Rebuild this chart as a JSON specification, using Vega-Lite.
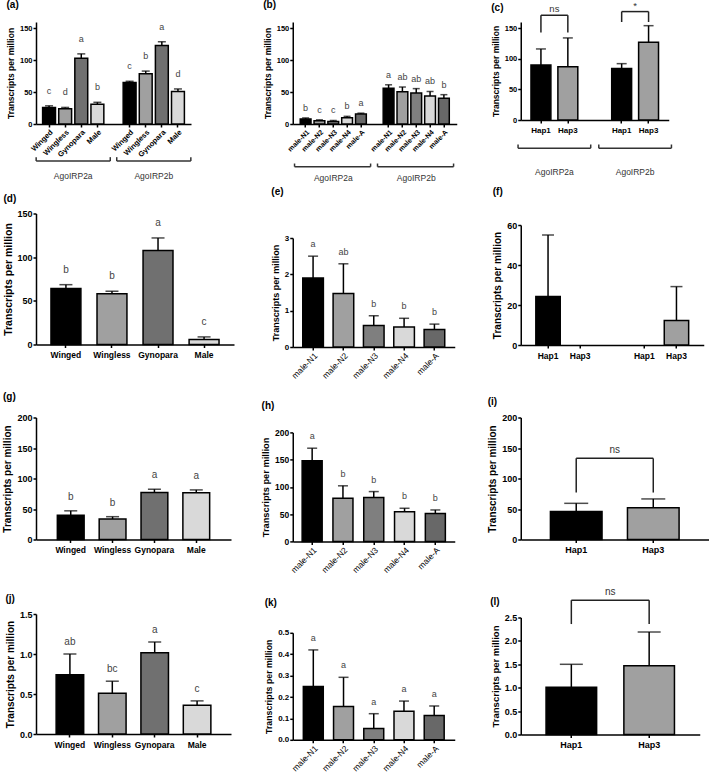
{
"$schema": "https://vega.github.io/schema/vega-lite/v6.json",
"background": "white",
"padding": {"left": 2, "top": 0, "right": 0, "bottom": 0},
"config": {
 "font": "Liberation Sans",
 "view": {"stroke": null},
 "axis": {"domainColor": "black", "domainWidth": 1.5, "tickColor": "black", "tickWidth": 1.5, "tickSize": 3, "labelColor": "black", "labelFontWeight": "bold", "titleColor": "black", "titleFontWeight": "bold", "grid": false, "labelPadding": 1, "titlePadding": 4, "labelFont": "Liberation Sans", "titleFont": "Liberation Sans", "labelOverlap": false},
 "title": {"anchor": "start", "frame": "bounds", "fontSize": 10, "fontWeight": "bold", "color": "black", "font": "Liberation Sans"},
 "bar": {"stroke": "black", "strokeWidth": 1.5},
 "text": {"font": "Liberation Sans"}
},
"datasets": {
 "a": [
  {"key":"2a|Winged","cat":"Winged","mean":26,"hi":28.5,"letter":"c"},
  {"key":"2a|Wingless","cat":"Wingless","mean":24,"hi":26,"letter":"d"},
  {"key":"2a|Gynopara","cat":"Gynopara","mean":103,"hi":110,"letter":"a"},
  {"key":"2a|Male","cat":"Male","mean":31,"hi":34,"letter":"b"},
  {"key":"2b|Winged","cat":"Winged","mean":65,"hi":67,"letter":"c"},
  {"key":"2b|Wingless","cat":"Wingless","mean":79,"hi":83,"letter":"b"},
  {"key":"2b|Gynopara","cat":"Gynopara","mean":123,"hi":129,"letter":"a"},
  {"key":"2b|Male","cat":"Male","mean":51,"hi":55,"letter":"d"}
 ],
 "a_g": [
  {"group":"AgoIRP2a","first":"2a|Winged","last":"2a|Male","mid":"2a|Wingless"},
  {"group":"AgoIRP2b","first":"2b|Winged","last":"2b|Male","mid":"2b|Wingless"}
 ],
 "b": [
  {"key":"2a|male-N1","cat":"male-N1","mean":8,"hi":9.5,"letter":"b"},
  {"key":"2a|male-N2","cat":"male-N2","mean":5,"hi":6.5,"letter":"c"},
  {"key":"2a|male-N3","cat":"male-N3","mean":4,"hi":5.5,"letter":"c"},
  {"key":"2a|male-N4","cat":"male-N4","mean":10,"hi":12,"letter":"b"},
  {"key":"2a|male-A","cat":"male-A","mean":15.5,"hi":17,"letter":"a"},
  {"key":"2b|male-N1","cat":"male-N1","mean":56,"hi":61.5,"letter":"a"},
  {"key":"2b|male-N2","cat":"male-N2","mean":50.5,"hi":58,"letter":"ab"},
  {"key":"2b|male-N3","cat":"male-N3","mean":48.5,"hi":55.5,"letter":"ab"},
  {"key":"2b|male-N4","cat":"male-N4","mean":44,"hi":51,"letter":"ab"},
  {"key":"2b|male-A","cat":"male-A","mean":40.5,"hi":46,"letter":"b"}
 ],
 "b_g": [
  {"group":"AgoIRP2a","first":"2a|male-N1","last":"2a|male-A","mid":"2a|male-N3"},
  {"group":"AgoIRP2b","first":"2b|male-N1","last":"2b|male-A","mid":"2b|male-N3"}
 ],
 "c": [
  {"key":"2a|Hap1","cat":"Hap1","mean":90,"hi":116},
  {"key":"2a|Hap3","cat":"Hap3","mean":87,"hi":134},
  {"key":"2b|Hap1","cat":"Hap1","mean":84,"hi":92},
  {"key":"2b|Hap3","cat":"Hap3","mean":127,"hi":154}
 ],
 "c_g": [
  {"group":"AgoIRP2a","first":"2a|Hap1","last":"2a|Hap3"},
  {"group":"AgoIRP2b","first":"2b|Hap1","last":"2b|Hap3"}
 ],
 "c_s": [
  {"a":"2a|Hap1","b":"2a|Hap3","top":171,"bot":143,"label":"ns"},
  {"a":"2b|Hap1","b":"2b|Hap3","top":177,"bot":160,"label":"*"}
 ],
 "d": [
  {"key":"Winged","cat":"Winged","mean":64,"hi":68.5,"letter":"b"},
  {"key":"Wingless","cat":"Wingless","mean":58,"hi":61,"letter":"b"},
  {"key":"Gynopara","cat":"Gynopara","mean":107.5,"hi":122,"letter":"a"},
  {"key":"Male","cat":"Male","mean":5.7,"hi":8.7,"letter":"c"}
 ],
 "e": [
  {"key":"male-N1","cat":"male-N1","mean":1.9,"hi":2.5,"letter":"a"},
  {"key":"male-N2","cat":"male-N2","mean":1.47,"hi":2.29,"letter":"ab"},
  {"key":"male-N3","cat":"male-N3","mean":0.59,"hi":0.86,"letter":"b"},
  {"key":"male-N4","cat":"male-N4","mean":0.55,"hi":0.79,"letter":"b"},
  {"key":"male-A","cat":"male-A","mean":0.48,"hi":0.63,"letter":"b"}
 ],
 "f": [
  {"key":"2a|Hap1","cat":"Hap1","mean":24.3,"hi":55},
  {"key":"2b|Hap3","cat":"Hap3","mean":12.3,"hi":29.2}
 ],
 "g": [
  {"key":"Winged","cat":"Winged","mean":39.6,"hi":47,"letter":"b"},
  {"key":"Wingless","cat":"Wingless","mean":33.6,"hi":37.4,"letter":"b"},
  {"key":"Gynopara","cat":"Gynopara","mean":77,"hi":82.4,"letter":"a"},
  {"key":"Male","cat":"Male","mean":76.5,"hi":81.3,"letter":"a"}
 ],
 "h": [
  {"key":"male-N1","cat":"male-N1","mean":148,"hi":171,"letter":"a"},
  {"key":"male-N2","cat":"male-N2","mean":79,"hi":102,"letter":"b"},
  {"key":"male-N3","cat":"male-N3","mean":80.4,"hi":91.4,"letter":"b"},
  {"key":"male-N4","cat":"male-N4","mean":54.6,"hi":60.8,"letter":"b"},
  {"key":"male-A","cat":"male-A","mean":51,"hi":57.7,"letter":"b"}
 ],
 "i": [
  {"key":"Hap1","cat":"Hap1","mean":46,"hi":59.3},
  {"key":"Hap3","cat":"Hap3","mean":52,"hi":66.5}
 ],
 "i_s": [{"a":"Hap1","b":"Hap3","top":133,"bot":77,"label":"ns"}],
 "j": [
  {"key":"Winged","cat":"Winged","mean":0.74,"hi":1.0,"letter":"ab"},
  {"key":"Wingless","cat":"Wingless","mean":0.51,"hi":0.66,"letter":"bc"},
  {"key":"Gynopara","cat":"Gynopara","mean":1.015,"hi":1.15,"letter":"a"},
  {"key":"Male","cat":"Male","mean":0.36,"hi":0.414,"letter":"c"}
 ],
 "k": [
  {"key":"male-N1","cat":"male-N1","mean":0.249,"hi":0.42,"letter":"a"},
  {"key":"male-N2","cat":"male-N2","mean":0.156,"hi":0.292,"letter":"a"},
  {"key":"male-N3","cat":"male-N3","mean":0.053,"hi":0.122,"letter":"a"},
  {"key":"male-N4","cat":"male-N4","mean":0.133,"hi":0.181,"letter":"a"},
  {"key":"male-A","cat":"male-A","mean":0.113,"hi":0.158,"letter":"a"}
 ],
 "l": [
  {"key":"Hap1","cat":"Hap1","mean":1.01,"hi":1.5},
  {"key":"Hap3","cat":"Hap3","mean":1.47,"hi":2.19}
 ],
 "l_s": [{"a":"Hap1","b":"Hap3","top":2.87,"bot":2.36,"label":"ns"}]
},
"concat": [
 {"concat": [
  {"concat": [
   {"title": {"text": "(a)", "offset": 12}, "width": 155, "height": 102, "data": {"name": "a"},
    "encoding": {"x": {"field": "key", "type": "nominal", "title": null,
      "scale": {"domain": ["2a|Winged","2a|Wingless","2a|Gynopara","2a|Male","gap","2b|Winged","2b|Wingless","2b|Gynopara","2b|Male"], "paddingInner": 0, "paddingOuter": 0.31},
      "axis": {"values": ["2a|Winged","2a|Wingless","2a|Gynopara","2a|Male","2b|Winged","2b|Wingless","2b|Gynopara","2b|Male"], "labelExpr": "split(datum.value,'|')[1]", "labelAngle": -45, "labelAlign": "right", "labelBaseline": "top", "labelFontSize": 7.5}}},
    "layer": [
     {"mark": {"type": "bar", "width": {"band": 0.8}}, "encoding": {"y": {"field": "mean", "type": "quantitative", "title": "Transcripts per million", "scale": {"domain": [0,160], "nice": false}, "axis": {"values": [0,50,100,150], "format": "d", "tickCount": 20, "labelOverlap": false, "labelFontSize": 7.5, "titleFontSize": 8.5}},
       "color": {"field":"cat","type":"nominal","legend":null,"scale":{"domain":["Winged","Wingless","Gynopara","Male","male-N1","male-N2","male-N3","male-N4","male-A","Hap1","Hap3"],"range":["#000000","#a0a0a0","#707070","#d9d9d9","#000000","#a0a0a0","#7f7f7f","#d9d9d9","#686868","#000000","#a0a0a0"]}}}},
     {"mark": {"type": "rule", "color": "black", "strokeWidth": 1.5}, "encoding": {"y": {"field": "mean", "type": "quantitative", "title": "Transcripts per million"}, "y2": {"field": "hi"}}},
     {"mark": {"type": "tick", "color": "black", "thickness": 1.5, "size": 8}, "encoding": {"y": {"field": "hi", "type": "quantitative", "title": "Transcripts per million"}}},
     {"mark": {"type": "text", "baseline": "middle", "dy": -15, "fontSize": 9, "color": "#444"}, "encoding": {"y": {"field": "hi", "type": "quantitative", "title": "Transcripts per million"}, "text": {"field": "letter"}}},
     {"data": {"name": "a_g"}, "mark": {"type": "rule", "color": "#333", "strokeWidth": 1.5}, "encoding": {"x": {"field": "first", "type": "nominal", "bandPosition": -0.3, "title": null}, "x2": {"field": "last", "bandPosition": 1.3}, "y": {"datum": -58}}},
     {"data": {"name": "a_g"}, "mark": {"type": "rule", "color": "#333", "strokeWidth": 1.5}, "encoding": {"x": {"field": "first", "type": "nominal", "bandPosition": -0.3, "title": null}, "y": {"datum": -58}, "y2": {"datum": -52}}},
     {"data": {"name": "a_g"}, "mark": {"type": "rule", "color": "#333", "strokeWidth": 1.5}, "encoding": {"x": {"field": "last", "type": "nominal", "bandPosition": 1.3, "title": null}, "y": {"datum": -58}, "y2": {"datum": -52}}},
     {"data": {"name": "a_g"}, "mark": {"type": "text", "fontSize": 8.5, "color": "#333", "baseline": "middle"}, "encoding": {"x": {"field": "mid", "type": "nominal", "bandPosition": 1, "title": null}, "y": {"datum": -82}, "text": {"field": "group"}}}
    ]}
  ], "columns": 1, "align": "none"},
  {"concat": [
   {"concat": [
    {"title": {"text": "(d)", "offset": 5.5}, "width": 198, "height": 131, "data": {"name": "d"},
     "encoding": {"x": {"field": "key", "type": "nominal", "title": null, "scale": {"domain": ["Winged","Wingless","Gynopara","Male"], "paddingInner": 0, "paddingOuter": 0.15},
       "axis": {"labelAngle": 0, "labelFontSize": 8.5, "labelPadding": 3}}},
     "layer": [
      {"mark": {"type": "bar", "width": {"band": 0.65}}, "encoding": {"y": {"field": "mean", "type": "quantitative", "title": "Transcripts per million", "scale": {"domain": [0,150], "nice": false}, "axis": {"values": [0,50,100,150], "format": "d", "tickCount": 20, "labelOverlap": false, "labelFontSize": 9, "titleFontSize": 10.5, "titlePadding": 3.5}},
        "color": {"field":"cat","type":"nominal","legend":null,"scale":{"domain":["Winged","Wingless","Gynopara","Male","male-N1","male-N2","male-N3","male-N4","male-A","Hap1","Hap3"],"range":["#000000","#a0a0a0","#707070","#d9d9d9","#000000","#a0a0a0","#7f7f7f","#d9d9d9","#686868","#000000","#a0a0a0"]}}}},
      {"mark": {"type": "rule", "color": "black", "strokeWidth": 1.5}, "encoding": {"y": {"field": "mean", "type": "quantitative", "title": "Transcripts per million"}, "y2": {"field": "hi"}}},
      {"mark": {"type": "tick", "color": "black", "thickness": 1.5, "size": 13}, "encoding": {"y": {"field": "hi", "type": "quantitative", "title": "Transcripts per million"}}},
      {"mark": {"type": "text", "baseline": "middle", "dy": -15, "fontSize": 10, "color": "#444"}, "encoding": {"y": {"field": "hi", "type": "quantitative", "title": "Transcripts per million"}, "text": {"field": "letter"}}}
     ]}
   ], "columns": 1, "align": "none"},
   {"concat": [
    {"concat": [
     {"title": {"text": "(g)", "offset": 11.5}, "width": 195, "height": 122, "data": {"name": "g"},
      "encoding": {"x": {"field": "key", "type": "nominal", "title": null, "scale": {"domain": ["Winged","Wingless","Gynopara","Male"], "paddingInner": 0, "paddingOuter": 0.33},
        "axis": {"labelAngle": 0, "labelFontSize": 8.5, "labelPadding": 3}}},
      "layer": [
       {"mark": {"type": "bar", "width": {"band": 0.64}}, "encoding": {"y": {"field": "mean", "type": "quantitative", "title": "Transcripts per million", "scale": {"domain": [0,200], "nice": false}, "axis": {"values": [0,50,100,150,200], "format": "d", "tickCount": 20, "labelOverlap": false, "labelFontSize": 9, "titleFontSize": 10}},
         "color": {"field":"cat","type":"nominal","legend":null,"scale":{"domain":["Winged","Wingless","Gynopara","Male","male-N1","male-N2","male-N3","male-N4","male-A","Hap1","Hap3"],"range":["#000000","#a0a0a0","#707070","#d9d9d9","#000000","#a0a0a0","#7f7f7f","#d9d9d9","#686868","#000000","#a0a0a0"]}}}},
       {"mark": {"type": "rule", "color": "black", "strokeWidth": 1.5}, "encoding": {"y": {"field": "mean", "type": "quantitative", "title": "Transcripts per million"}, "y2": {"field": "hi"}}},
       {"mark": {"type": "tick", "color": "black", "thickness": 1.5, "size": 13}, "encoding": {"y": {"field": "hi", "type": "quantitative", "title": "Transcripts per million"}}},
       {"mark": {"type": "text", "baseline": "middle", "dy": -14, "fontSize": 10, "color": "#444"}, "encoding": {"y": {"field": "hi", "type": "quantitative", "title": "Transcripts per million"}, "text": {"field": "letter"}}}
      ]}
    ], "columns": 1, "align": "none"},
    {"concat": [
     {"title": {"text": "(j)", "offset": 6.5}, "width": 195, "height": 120, "data": {"name": "j"},
      "encoding": {"x": {"field": "key", "type": "nominal", "title": null, "scale": {"domain": ["Winged","Wingless","Gynopara","Male"], "paddingInner": 0, "paddingOuter": 0.3},
        "axis": {"labelAngle": 0, "labelFontSize": 8.5, "labelPadding": 3}}},
      "layer": [
       {"mark": {"type": "bar", "width": {"band": 0.65}}, "encoding": {"y": {"field": "mean", "type": "quantitative", "title": "Transcripts per million", "scale": {"domain": [0,1.5], "nice": false}, "axis": {"values": [0,0.5,1,1.5], "format": ".1f", "tickCount": 20, "labelOverlap": false, "labelFontSize": 9, "titleFontSize": 10}},
         "color": {"field":"cat","type":"nominal","legend":null,"scale":{"domain":["Winged","Wingless","Gynopara","Male","male-N1","male-N2","male-N3","male-N4","male-A","Hap1","Hap3"],"range":["#000000","#a0a0a0","#707070","#d9d9d9","#000000","#a0a0a0","#7f7f7f","#d9d9d9","#686868","#000000","#a0a0a0"]}}}},
       {"mark": {"type": "rule", "color": "black", "strokeWidth": 1.5}, "encoding": {"y": {"field": "mean", "type": "quantitative", "title": "Transcripts per million"}, "y2": {"field": "hi"}}},
       {"mark": {"type": "tick", "color": "black", "thickness": 1.5, "size": 13}, "encoding": {"y": {"field": "hi", "type": "quantitative", "title": "Transcripts per million"}}},
       {"mark": {"type": "text", "baseline": "middle", "dy": -12, "fontSize": 10, "color": "#444"}, "encoding": {"y": {"field": "hi", "type": "quantitative", "title": "Transcripts per million"}, "text": {"field": "letter"}}}
      ]}
    ], "columns": 1, "align": "none"}
   ], "columns": 1, "align": "none", "spacing": 38.5}
  ], "columns": 1, "align": "none", "spacing": 32}
 ], "columns": 1, "align": "none", "spacing": 12.5},
 {"concat": [
  {"concat": [
   {"concat": [
    {"title": {"text": "(b)", "offset": 12}, "width": 164, "height": 102, "data": {"name": "b"},
     "encoding": {"x": {"field": "key", "type": "nominal", "title": null,
       "scale": {"domain": ["2a|male-N1","2a|male-N2","2a|male-N3","2a|male-N4","2a|male-A","gap","2b|male-N1","2b|male-N2","2b|male-N3","2b|male-N4","2b|male-A"], "paddingInner": 0, "paddingOuter": 0.43},
       "axis": {"values": ["2a|male-N1","2a|male-N2","2a|male-N3","2a|male-N4","2a|male-A","2b|male-N1","2b|male-N2","2b|male-N3","2b|male-N4","2b|male-A"], "labelExpr": "split(datum.value,'|')[1]", "labelAngle": -45, "labelAlign": "right", "labelBaseline": "top", "labelFontSize": 7}}},
     "layer": [
      {"mark": {"type": "bar", "width": {"band": 0.78}}, "encoding": {"y": {"field": "mean", "type": "quantitative", "title": "Transcripts per million", "scale": {"domain": [0,160], "nice": false}, "axis": {"values": [0,50,100,150], "format": "d", "tickCount": 20, "labelOverlap": false, "labelFontSize": 7.5, "titleFontSize": 8.5}},
        "color": {"field":"cat","type":"nominal","legend":null,"scale":{"domain":["Winged","Wingless","Gynopara","Male","male-N1","male-N2","male-N3","male-N4","male-A","Hap1","Hap3"],"range":["#000000","#a0a0a0","#707070","#d9d9d9","#000000","#a0a0a0","#7f7f7f","#d9d9d9","#686868","#000000","#a0a0a0"]}}}},
      {"mark": {"type": "rule", "color": "black", "strokeWidth": 1.5}, "encoding": {"y": {"field": "mean", "type": "quantitative", "title": "Transcripts per million"}, "y2": {"field": "hi"}}},
      {"mark": {"type": "tick", "color": "black", "thickness": 1.5, "size": 7}, "encoding": {"y": {"field": "hi", "type": "quantitative", "title": "Transcripts per million"}}},
      {"mark": {"type": "text", "baseline": "middle", "dy": -10, "fontSize": 9, "color": "#444"}, "encoding": {"y": {"field": "hi", "type": "quantitative", "title": "Transcripts per million"}, "text": {"field": "letter"}}},
      {"data": {"name": "b_g"}, "mark": {"type": "rule", "color": "#333", "strokeWidth": 1.5}, "encoding": {"x": {"field": "first", "type": "nominal", "bandPosition": -0.3, "title": null}, "x2": {"field": "last", "bandPosition": 1.2}, "y": {"datum": -67}}},
      {"data": {"name": "b_g"}, "mark": {"type": "rule", "color": "#333", "strokeWidth": 1.5}, "encoding": {"x": {"field": "first", "type": "nominal", "bandPosition": -0.3, "title": null}, "y": {"datum": -67}, "y2": {"datum": -62}}},
      {"data": {"name": "b_g"}, "mark": {"type": "rule", "color": "#333", "strokeWidth": 1.5}, "encoding": {"x": {"field": "last", "type": "nominal", "bandPosition": 1.2, "title": null}, "y": {"datum": -67}, "y2": {"datum": -62}}},
      {"data": {"name": "b_g"}, "mark": {"type": "text", "fontSize": 8.5, "color": "#333", "baseline": "middle"}, "encoding": {"x": {"field": "mid", "type": "nominal", "bandPosition": 0.5, "title": null}, "y": {"datum": -85}, "text": {"field": "group"}}}
     ]}
   ], "columns": 1, "align": "none"},
   {"concat": [
    {"concat": [
     {"title": {"text": "(e)", "offset": 37}, "width": 162, "height": 109, "data": {"name": "e"},
      "encoding": {"x": {"field": "key", "type": "nominal", "title": null, "scale": {"domain": ["male-N1","male-N2","male-N3","male-N4","male-A"], "paddingInner": 0, "paddingOuter": 0.17},
        "axis": {"labelAngle": -45, "labelAlign": "right", "labelBaseline": "top", "labelFontSize": 8.5, "labelFontWeight": "normal"}}},
      "layer": [
       {"mark": {"type": "bar", "width": {"band": 0.68}}, "encoding": {"y": {"field": "mean", "type": "quantitative", "title": "Transcripts per million", "scale": {"domain": [0,3], "nice": false}, "axis": {"values": [0,1,2,3], "format": "d", "tickCount": 20, "labelOverlap": false, "labelFontSize": 8, "titleFontSize": 9}},
         "color": {"field":"cat","type":"nominal","legend":null,"scale":{"domain":["Winged","Wingless","Gynopara","Male","male-N1","male-N2","male-N3","male-N4","male-A","Hap1","Hap3"],"range":["#000000","#a0a0a0","#707070","#d9d9d9","#000000","#a0a0a0","#7f7f7f","#d9d9d9","#686868","#000000","#a0a0a0"]}}}},
       {"mark": {"type": "rule", "color": "black", "strokeWidth": 1.5}, "encoding": {"y": {"field": "mean", "type": "quantitative", "title": "Transcripts per million"}, "y2": {"field": "hi"}}},
       {"mark": {"type": "tick", "color": "black", "thickness": 1.5, "size": 10}, "encoding": {"y": {"field": "hi", "type": "quantitative", "title": "Transcripts per million"}}},
       {"mark": {"type": "text", "baseline": "middle", "dy": -12, "fontSize": 9, "color": "#444"}, "encoding": {"y": {"field": "hi", "type": "quantitative", "title": "Transcripts per million"}, "text": {"field": "letter"}}}
      ]}
    ], "columns": 1, "align": "none"},
    {"concat": [
     {"concat": [
      {"title": {"text": "(h)", "offset": 17.75}, "width": 162, "height": 109, "data": {"name": "h"},
       "encoding": {"x": {"field": "key", "type": "nominal", "title": null, "scale": {"domain": ["male-N1","male-N2","male-N3","male-N4","male-A"], "paddingInner": 0, "paddingOuter": 0.13},
         "axis": {"labelAngle": -45, "labelAlign": "right", "labelBaseline": "top", "labelFontSize": 8.5, "labelFontWeight": "normal"}}},
       "layer": [
        {"mark": {"type": "bar", "width": {"band": 0.65}}, "encoding": {"y": {"field": "mean", "type": "quantitative", "title": "Transcripts per million", "scale": {"domain": [0,200], "nice": false}, "axis": {"values": [0,50,100,150,200], "format": "d", "tickCount": 20, "labelOverlap": false, "labelFontSize": 8.5, "titleFontSize": 9.3}},
          "color": {"field":"cat","type":"nominal","legend":null,"scale":{"domain":["Winged","Wingless","Gynopara","Male","male-N1","male-N2","male-N3","male-N4","male-A","Hap1","Hap3"],"range":["#000000","#a0a0a0","#707070","#d9d9d9","#000000","#a0a0a0","#7f7f7f","#d9d9d9","#686868","#000000","#a0a0a0"]}}}},
        {"mark": {"type": "rule", "color": "black", "strokeWidth": 1.5}, "encoding": {"y": {"field": "mean", "type": "quantitative", "title": "Transcripts per million"}, "y2": {"field": "hi"}}},
        {"mark": {"type": "tick", "color": "black", "thickness": 1.5, "size": 10}, "encoding": {"y": {"field": "hi", "type": "quantitative", "title": "Transcripts per million"}}},
        {"mark": {"type": "text", "baseline": "middle", "dy": -12, "fontSize": 9, "color": "#444"}, "encoding": {"y": {"field": "hi", "type": "quantitative", "title": "Transcripts per million"}, "text": {"field": "letter"}}}
       ]}
     ], "columns": 1, "align": "none"},
     {"concat": [
      {"title": {"text": "(k)", "offset": 21}, "width": 162, "height": 107, "data": {"name": "k"},
       "encoding": {"x": {"field": "key", "type": "nominal", "title": null, "scale": {"domain": ["male-N1","male-N2","male-N3","male-N4","male-A"], "paddingInner": 0, "paddingOuter": 0.18},
         "axis": {"labelAngle": -45, "labelAlign": "right", "labelBaseline": "top", "labelFontSize": 8.5, "labelFontWeight": "normal"}}},
       "layer": [
        {"mark": {"type": "bar", "width": {"band": 0.66}}, "encoding": {"y": {"field": "mean", "type": "quantitative", "title": "Transcripts per million", "scale": {"domain": [0,0.5], "nice": false}, "axis": {"values": [0,0.1,0.2,0.3,0.4,0.5], "format": ".1f", "tickCount": 20, "labelOverlap": false, "labelFontSize": 8, "titleFontSize": 8.8}},
          "color": {"field":"cat","type":"nominal","legend":null,"scale":{"domain":["Winged","Wingless","Gynopara","Male","male-N1","male-N2","male-N3","male-N4","male-A","Hap1","Hap3"],"range":["#000000","#a0a0a0","#707070","#d9d9d9","#000000","#a0a0a0","#7f7f7f","#d9d9d9","#686868","#000000","#a0a0a0"]}}}},
        {"mark": {"type": "rule", "color": "black", "strokeWidth": 1.5}, "encoding": {"y": {"field": "mean", "type": "quantitative", "title": "Transcripts per million"}, "y2": {"field": "hi"}}},
        {"mark": {"type": "tick", "color": "black", "thickness": 1.5, "size": 10}, "encoding": {"y": {"field": "hi", "type": "quantitative", "title": "Transcripts per million"}}},
        {"mark": {"type": "text", "baseline": "middle", "dy": -12, "fontSize": 9, "color": "#444"}, "encoding": {"y": {"field": "hi", "type": "quantitative", "title": "Transcripts per million"}, "text": {"field": "letter"}}}
       ]}
     ], "columns": 1, "align": "none"}
    ], "columns": 1, "align": "none", "spacing": 23.4}
   ], "columns": 1, "align": "none", "spacing": 20.4}
  ], "columns": 1, "align": "none", "spacing": 4},
  {"concat": [
   {"concat": [
    {"title": {"text": "(c)", "offset": -12}, "width": 148, "height": 98, "data": {"name": "c"},
     "encoding": {"x": {"field": "key", "type": "nominal", "title": null,
       "scale": {"domain": ["2a|Hap1","2a|Hap3","gap","2b|Hap1","2b|Hap3"], "paddingInner": 0, "paddingOuter": 0.25},
       "axis": {"values": ["2a|Hap1","2a|Hap3","2b|Hap1","2b|Hap3"], "labelExpr": "split(datum.value,'|')[1]", "labelAngle": 0, "labelFontSize": 8, "labelPadding": 3}}},
     "layer": [
      {"mark": {"type": "bar", "width": {"band": 0.74}}, "encoding": {"y": {"field": "mean", "type": "quantitative", "title": "Transcripts per million", "scale": {"domain": [0,160], "nice": false}, "axis": {"values": [0,50,100,150], "format": "d", "tickCount": 20, "labelOverlap": false, "labelFontSize": 7.5, "titleFontSize": 8.5}},
        "color": {"field":"cat","type":"nominal","legend":null,"scale":{"domain":["Winged","Wingless","Gynopara","Male","male-N1","male-N2","male-N3","male-N4","male-A","Hap1","Hap3"],"range":["#000000","#a0a0a0","#707070","#d9d9d9","#000000","#a0a0a0","#7f7f7f","#d9d9d9","#686868","#000000","#a0a0a0"]}}}},
      {"mark": {"type": "rule", "color": "black", "strokeWidth": 1.5}, "encoding": {"y": {"field": "mean", "type": "quantitative", "title": "Transcripts per million"}, "y2": {"field": "hi"}}},
      {"mark": {"type": "tick", "color": "black", "thickness": 1.5, "size": 10}, "encoding": {"y": {"field": "hi", "type": "quantitative", "title": "Transcripts per million"}}},
      {"data": {"name": "c_s"}, "mark": {"type": "rule", "color": "#222", "strokeWidth": 1.5}, "encoding": {"x": {"field": "a", "type": "nominal", "bandPosition": 0.5, "title": null}, "x2": {"field": "b", "bandPosition": 0.5}, "y": {"field": "top", "type": "quantitative", "title": "Transcripts per million"}}},
      {"data": {"name": "c_s"}, "mark": {"type": "rule", "color": "#222", "strokeWidth": 1.5}, "encoding": {"x": {"field": "a", "type": "nominal", "title": null}, "y": {"field": "top", "type": "quantitative", "title": "Transcripts per million"}, "y2": {"field": "bot"}}},
      {"data": {"name": "c_s"}, "mark": {"type": "rule", "color": "#222", "strokeWidth": 1.5}, "encoding": {"x": {"field": "b", "type": "nominal", "title": null}, "y": {"field": "top", "type": "quantitative", "title": "Transcripts per million"}, "y2": {"field": "bot"}}},
      {"data": {"name": "c_s"}, "mark": {"type": "text", "baseline": "bottom", "dy": -1, "fontSize": 9.5, "color": "#333"}, "encoding": {"x": {"field": "a", "type": "nominal", "bandPosition": 1, "title": null}, "y": {"field": "top", "type": "quantitative", "title": "Transcripts per million"}, "text": {"field": "label"}}},
      {"data": {"name": "c_g"}, "mark": {"type": "rule", "color": "#333", "strokeWidth": 1.5}, "encoding": {"x": {"field": "first", "type": "nominal", "bandPosition": -0.35, "title": null}, "x2": {"field": "last", "bandPosition": 1.35}, "y": {"datum": -46}}},
      {"data": {"name": "c_g"}, "mark": {"type": "rule", "color": "#333", "strokeWidth": 1.5}, "encoding": {"x": {"field": "first", "type": "nominal", "bandPosition": -0.35, "title": null}, "y": {"datum": -46}, "y2": {"datum": -40}}},
      {"data": {"name": "c_g"}, "mark": {"type": "rule", "color": "#333", "strokeWidth": 1.5}, "encoding": {"x": {"field": "last", "type": "nominal", "bandPosition": 1.35, "title": null}, "y": {"datum": -46}, "y2": {"datum": -40}}},
      {"data": {"name": "c_g"}, "mark": {"type": "text", "fontSize": 8.5, "color": "#333", "baseline": "middle"}, "encoding": {"x": {"field": "first", "type": "nominal", "bandPosition": 1, "title": null}, "y": {"datum": -85}, "text": {"field": "group"}}}
     ]}
   ], "columns": 1, "align": "none"},
   {"concat": [
    {"concat": [
     {"title": {"text": "(f)", "offset": 24.5}, "width": 183, "height": 120, "data": {"name": "f"},
      "encoding": {"x": {"field": "key", "type": "nominal", "title": null,
        "scale": {"domain": ["2a|Hap1","2a|Hap3","gap","2b|Hap1","2b|Hap3"], "paddingInner": 0, "paddingOuter": 0.35},
        "axis": {"values": ["2a|Hap1","2a|Hap3","2b|Hap1","2b|Hap3"], "labelExpr": "split(datum.value,'|')[1]", "labelAngle": 0, "labelFontSize": 8.5, "labelPadding": 3}}},
      "layer": [
       {"mark": {"type": "bar", "width": {"band": 0.76}}, "encoding": {"y": {"field": "mean", "type": "quantitative", "title": "Transcripts per million", "scale": {"domain": [0,60], "nice": false}, "axis": {"values": [0,20,40,60], "format": "d", "tickCount": 20, "labelOverlap": false, "labelFontSize": 9, "titleFontSize": 10}},
         "color": {"field":"cat","type":"nominal","legend":null,"scale":{"domain":["Winged","Wingless","Gynopara","Male","male-N1","male-N2","male-N3","male-N4","male-A","Hap1","Hap3"],"range":["#000000","#a0a0a0","#707070","#d9d9d9","#000000","#a0a0a0","#7f7f7f","#d9d9d9","#686868","#000000","#a0a0a0"]}}}},
       {"mark": {"type": "rule", "color": "black", "strokeWidth": 1.5}, "encoding": {"y": {"field": "mean", "type": "quantitative", "title": "Transcripts per million"}, "y2": {"field": "hi"}}},
       {"mark": {"type": "tick", "color": "black", "thickness": 1.5, "size": 12}, "encoding": {"y": {"field": "hi", "type": "quantitative", "title": "Transcripts per million"}}}
      ]}
    ], "columns": 1, "align": "none"},
    {"concat": [
     {"concat": [
      {"title": {"text": "(i)", "offset": 6.5}, "width": 188, "height": 122, "data": {"name": "i"},
       "encoding": {"x": {"field": "key", "type": "nominal", "title": null, "scale": {"domain": ["Hap1","Hap3"], "paddingInner": 0, "paddingOuter": 0.22},
         "axis": {"labelAngle": 0, "labelFontSize": 9, "labelPadding": 3}}},
       "layer": [
        {"mark": {"type": "bar", "width": {"band": 0.67}}, "encoding": {"y": {"field": "mean", "type": "quantitative", "title": "Transcripts per million", "scale": {"domain": [0,200], "nice": false}, "axis": {"values": [0,50,100,150,200], "format": "d", "tickCount": 20, "labelOverlap": false, "labelFontSize": 9, "titleFontSize": 10}},
          "color": {"field":"cat","type":"nominal","legend":null,"scale":{"domain":["Winged","Wingless","Gynopara","Male","male-N1","male-N2","male-N3","male-N4","male-A","Hap1","Hap3"],"range":["#000000","#a0a0a0","#707070","#d9d9d9","#000000","#a0a0a0","#7f7f7f","#d9d9d9","#686868","#000000","#a0a0a0"]}}}},
        {"mark": {"type": "rule", "color": "black", "strokeWidth": 1.5}, "encoding": {"y": {"field": "mean", "type": "quantitative", "title": "Transcripts per million"}, "y2": {"field": "hi"}}},
        {"mark": {"type": "tick", "color": "black", "thickness": 1.5, "size": 24}, "encoding": {"y": {"field": "hi", "type": "quantitative", "title": "Transcripts per million"}}},
        {"data": {"name": "i_s"}, "mark": {"type": "rule", "color": "#222", "strokeWidth": 1.5}, "encoding": {"x": {"field": "a", "type": "nominal", "bandPosition": 0.5, "title": null}, "x2": {"field": "b", "bandPosition": 0.5}, "y": {"field": "top", "type": "quantitative", "title": "Transcripts per million"}}},
        {"data": {"name": "i_s"}, "mark": {"type": "rule", "color": "#222", "strokeWidth": 1.5}, "encoding": {"x": {"field": "a", "type": "nominal", "title": null}, "y": {"field": "top", "type": "quantitative", "title": "Transcripts per million"}, "y2": {"field": "bot"}}},
        {"data": {"name": "i_s"}, "mark": {"type": "rule", "color": "#222", "strokeWidth": 1.5}, "encoding": {"x": {"field": "b", "type": "nominal", "title": null}, "y": {"field": "top", "type": "quantitative", "title": "Transcripts per million"}, "y2": {"field": "bot"}}},
        {"data": {"name": "i_s"}, "mark": {"type": "text", "baseline": "bottom", "dy": -3, "fontSize": 10, "color": "#333"}, "encoding": {"x": {"field": "a", "type": "nominal", "bandPosition": 1, "title": null}, "y": {"field": "top", "type": "quantitative", "title": "Transcripts per million"}, "text": {"field": "label"}}}
       ]}
     ], "columns": 1, "align": "none"},
     {"concat": [
      {"title": {"text": "(l)", "offset": -20.3}, "width": 179, "height": 117, "data": {"name": "l"},
       "encoding": {"x": {"field": "key", "type": "nominal", "title": null, "scale": {"domain": ["Hap1","Hap3"], "paddingInner": 0, "paddingOuter": 0.15},
         "axis": {"labelAngle": 0, "labelFontSize": 9, "labelPadding": 3}}},
       "layer": [
        {"mark": {"type": "bar", "width": {"band": 0.65}}, "encoding": {"y": {"field": "mean", "type": "quantitative", "title": "Transcripts per million", "scale": {"domain": [0,2.5], "nice": false}, "axis": {"values": [0,0.5,1,1.5,2,2.5], "format": ".1f", "tickCount": 20, "labelOverlap": false, "labelFontSize": 9, "titleFontSize": 9.5}},
          "color": {"field":"cat","type":"nominal","legend":null,"scale":{"domain":["Winged","Wingless","Gynopara","Male","male-N1","male-N2","male-N3","male-N4","male-A","Hap1","Hap3"],"range":["#000000","#a0a0a0","#707070","#d9d9d9","#000000","#a0a0a0","#7f7f7f","#d9d9d9","#686868","#000000","#a0a0a0"]}}}},
        {"mark": {"type": "rule", "color": "black", "strokeWidth": 1.5}, "encoding": {"y": {"field": "mean", "type": "quantitative", "title": "Transcripts per million"}, "y2": {"field": "hi"}}},
        {"mark": {"type": "tick", "color": "black", "thickness": 1.5, "size": 23}, "encoding": {"y": {"field": "hi", "type": "quantitative", "title": "Transcripts per million"}}},
        {"data": {"name": "l_s"}, "mark": {"type": "rule", "color": "#222", "strokeWidth": 1.5}, "encoding": {"x": {"field": "a", "type": "nominal", "bandPosition": 0.5, "title": null}, "x2": {"field": "b", "bandPosition": 0.5}, "y": {"field": "top", "type": "quantitative", "title": "Transcripts per million"}}},
        {"data": {"name": "l_s"}, "mark": {"type": "rule", "color": "#222", "strokeWidth": 1.5}, "encoding": {"x": {"field": "a", "type": "nominal", "title": null}, "y": {"field": "top", "type": "quantitative", "title": "Transcripts per million"}, "y2": {"field": "bot"}}},
        {"data": {"name": "l_s"}, "mark": {"type": "rule", "color": "#222", "strokeWidth": 1.5}, "encoding": {"x": {"field": "b", "type": "nominal", "title": null}, "y": {"field": "top", "type": "quantitative", "title": "Transcripts per million"}, "y2": {"field": "bot"}}},
        {"data": {"name": "l_s"}, "mark": {"type": "text", "baseline": "bottom", "dy": -3, "fontSize": 10, "color": "#333"}, "encoding": {"x": {"field": "a", "type": "nominal", "bandPosition": 1, "title": null}, "y": {"field": "top", "type": "quantitative", "title": "Transcripts per million"}, "text": {"field": "label"}}}
       ]}
     ], "columns": 1, "align": "none"}
    ], "columns": 1, "align": "none", "spacing": 32}
   ], "columns": 1, "align": "none", "spacing": 36.5}
  ], "columns": 1, "align": "none", "spacing": 9}
 ], "columns": 2, "align": "none", "spacing": 30}
],
"columns": 2, "align": "none", "spacing": 26.75
}
